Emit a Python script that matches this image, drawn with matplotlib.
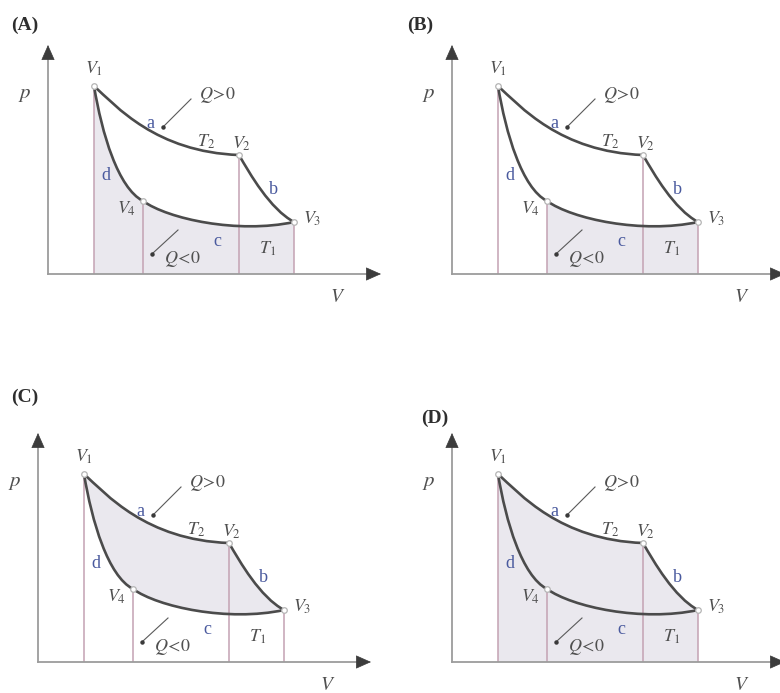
import matplotlib
matplotlib.use("Agg")
import matplotlib.pyplot as plt
from matplotlib.path import Path
from matplotlib.patches import PathPatch

plt.rcParams['font.family'] = ['Liberation Serif', 'DejaVu Serif']
plt.rcParams['mathtext.fontset'] = 'stix'

# state points of the cycle: V1, V2, V3, V4
vol = [46, 191, 246, 95]
pres = [188, 119, 52, 73]

# bezier handles of the four strokes
ctrl_a = [(68, 168), (108, 122)]   # V1 -> V2, isotherm T2
ctrl_b = [(202, 100), (222, 65)]   # V2 -> V3, adiabat
ctrl_c = [(120, 55), (190, 40)]    # V4 -> V3, isotherm T1
ctrl_d = [(54, 140), (70, 86)]     # V1 -> V4, adiabat

panels = ['(A)', '(B)', '(C)', '(D)']
shaded = ['under_dc', 'under_c', 'cycle', 'under_ab']
origin_px = [(48, 274), (452, 274), (38, 662), (452, 662)]
title_pos = [(-37, 249), (-45, 249), (-27, 265), (-31, 244)]

W, H = 780, 693
CURVE = '#4b4b4b'
AXIS = '#9c9c9c'
DROP = '#c3a2b3'
FILL = '#eae8ee'
TXT = '#505050'
BLUE = '#4a5a9e'


def P(i):
    return (vol[i], pres[i])


def foot(i):
    return (vol[i], 0)


def region(kind):
    C4 = [Path.CURVE4] * 3
    if kind == 'under_dc':
        verts = [foot(0), P(0), *ctrl_d, P(3), *ctrl_c, P(2), foot(2), foot(0)]
        codes = [Path.MOVETO, Path.LINETO] + C4 + C4 + [Path.LINETO, Path.CLOSEPOLY]
    elif kind == 'under_c':
        verts = [foot(3), P(3), *ctrl_c, P(2), foot(2), foot(3)]
        codes = [Path.MOVETO, Path.LINETO] + C4 + [Path.LINETO, Path.CLOSEPOLY]
    elif kind == 'cycle':
        verts = [P(0), *ctrl_a, P(1), *ctrl_b, P(2), ctrl_c[1], ctrl_c[0], P(3),
                 ctrl_d[1], ctrl_d[0], P(0), P(0)]
        codes = [Path.MOVETO] + C4 * 4 + [Path.CLOSEPOLY]
    else:
        verts = [foot(0), P(0), *ctrl_a, P(1), *ctrl_b, P(2), foot(2), foot(0)]
        codes = [Path.MOVETO, Path.LINETO] + C4 + C4 + [Path.LINETO, Path.CLOSEPOLY]
    return Path(verts, codes)


def stroke(ax, a, ctrl, b):
    path = Path([a, ctrl[0], ctrl[1], b], [Path.MOVETO] + [Path.CURVE4] * 3)
    ax.add_patch(PathPatch(path, fill=False, ec=CURVE, lw=1.9, zorder=4,
                           capstyle='round'))


fig = plt.figure(figsize=(W / 100, H / 100), dpi=100)

for k in range(4):
    ox, oy = origin_px[k]
    x0, x1, y0, y1 = -50, 345, -45, 270
    ax = fig.add_axes([(ox + x0) / W, (H - oy + y0) / H, (x1 - x0) / W, (y1 - y0) / H])
    ax.set_xlim(x0, x1)
    ax.set_ylim(y0, y1)
    ax.axis('off')

    ax.add_patch(PathPatch(region(shaded[k]), fc=FILL, ec='none', zorder=1))

    # drop lines from each state to the V axis
    ax.vlines(vol, 0, pres, color=DROP, lw=1.1, zorder=2)

    # axes with arrow heads
    ax.plot([0, 322], [0, 0], color=AXIS, lw=1.3, zorder=3)
    ax.plot([0, 0], [0, 218], color=AXIS, lw=1.3, zorder=3)
    head = dict(arrowstyle='-|>,head_length=0.9,head_width=0.4', color='#3c3c3c',
                lw=0.5, shrinkA=0, shrinkB=0, mutation_scale=11)
    ax.annotate('', xy=(333, 0), xytext=(320, 0), arrowprops=head)
    ax.annotate('', xy=(0, 229), xytext=(0, 216), arrowprops=head)

    stroke(ax, P(0), ctrl_a, P(1))
    stroke(ax, P(1), ctrl_b, P(2))
    stroke(ax, P(3), ctrl_c, P(2))
    stroke(ax, P(0), ctrl_d, P(3))
    ax.plot(vol, pres, 'o', ms=4, mfc='white', mec='#b4b4b4', mew=0.9, zorder=5)

    # heat flow pointers
    ax.plot([143, 116], [175, 148], color='#5a5a5a', lw=0.8, zorder=5)
    ax.plot([115], [147], 'o', ms=2.2, color='#3a3a3a', zorder=5)
    ax.plot([130, 105], [44, 21], color='#5a5a5a', lw=0.8, zorder=5)
    ax.plot([104], [20], 'o', ms=2.2, color='#3a3a3a', zorder=5)

    fs = 13
    ax.text(-23, 180, '$p$', fontsize=15, color=TXT, ha='center', va='center')
    ax.text(290, -24, '$V$', fontsize=14, color=TXT, ha='center', va='center')
    ax.text(46, 205, '$V_1$', fontsize=fs, color=TXT, ha='center', va='center')
    ax.text(194, 130, '$V_2$', fontsize=fs, color=TXT, ha='center', va='center')
    ax.text(264, 55, '$V_3$', fontsize=fs, color=TXT, ha='center', va='center')
    ax.text(79, 65, '$V_4$', fontsize=fs, color=TXT, ha='center', va='center')
    ax.text(158, 132, '$T_2$', fontsize=fs, color=TXT, ha='center', va='center')
    ax.text(220, 25, '$T_1$', fontsize=fs, color=TXT, ha='center', va='center')
    ax.text(169, 179, r'$Q\!>\!0$', fontsize=fs, color=TXT, ha='center', va='center')
    ax.text(134, 15, r'$Q\!<\!0$', fontsize=fs, color=TXT, ha='center', va='center')
    ax.text(102, 151, 'a', fontsize=fs, color=BLUE, ha='center', va='center')
    ax.text(225, 84, 'b', fontsize=fs, color=BLUE, ha='center', va='center')
    ax.text(169, 32, 'c', fontsize=fs, color=BLUE, ha='center', va='center')
    ax.text(58, 99, 'd', fontsize=fs, color=BLUE, ha='center', va='center')

    tx, ty = title_pos[k]
    ax.text(tx, ty, panels[k], fontsize=14, fontweight='bold', color='#2e2e2e',
            ha='left', va='center')

fig.savefig('out.png', dpi=100, facecolor='white')
